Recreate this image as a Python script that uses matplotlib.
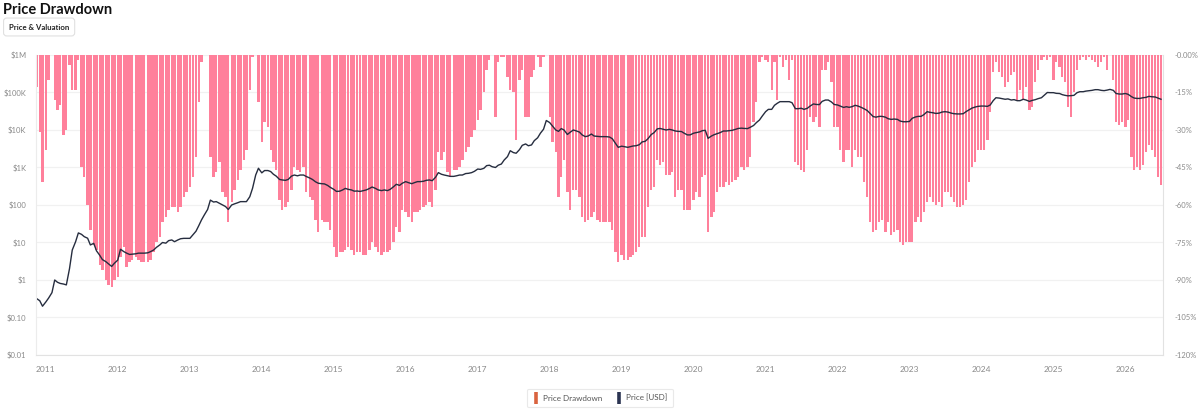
import numpy as np
import pandas as pd
import matplotlib
matplotlib.use("Agg")
import matplotlib.pyplot as plt
import matplotlib.dates as mdates
from matplotlib.lines import Line2D

plt.rcParams['font.family'] = ['Lato', 'DejaVu Sans']

# Drawdown from all-time high (%), one value per half month, from 2010-11-15
dd_2010 = [13, 31, 51]
dd_2011 = [38, 10, 0, 18, 22, 20, 32, 30, 4, 14, 14, 2,
           45, 49, 60, 70, 76, 78, 84, 86, 90, 92, 93, 90]
dd_2012 = [89, 81, 77, 85, 83, 82, 81, 82, 83, 83, 83, 82,
           79, 75, 73, 67, 65, 62, 61, 61, 63, 61, 57, 55]
dd_2013 = [53, 49, 41, 19, 3, 0, 0, 41, 49, 47, 43, 55,
           57, 67, 59, 54, 50, 46, 42, 38, 14, 1, 0, 19]
dd_2014 = [35, 27, 29, 38, 43, 46, 58, 62, 61, 59, 54, 45,
           46, 47, 45, 55, 57, 58, 66, 71, 66, 67, 67, 70]
dd_2015 = [77, 81, 79, 79, 78, 77, 78, 80, 79, 79, 80, 80,
           78, 75, 77, 79, 80, 79, 79, 78, 75, 69, 71, 62]
dd_2016 = [63, 65, 67, 63, 63, 62, 61, 60, 59, 61, 54, 39,
           42, 39, 47, 49, 46, 46, 45, 42, 39, 37, 33, 30]
dd_2017 = [26, 22, 15, 6, 2, 0, 25, 3, 1, 1, 9, 14,
           15, 34, 10, 6, 25, 25, 9, 6, 1, 5, 1, 0]
dd_2018 = [25, 35, 39, 57, 49, 42, 55, 62, 54, 54, 57, 65,
           67, 66, 65, 63, 66, 67, 67, 67, 67, 70, 79, 83]
dd_2019 = [80, 82, 82, 81, 80, 79, 77, 73, 73, 61, 54, 53,
           42, 44, 43, 48, 48, 47, 57, 54, 54, 62, 62, 62]
dd_2020 = [58, 55, 57, 49, 48, 71, 65, 63, 55, 53, 53, 51,
           52, 51, 50, 49, 45, 46, 45, 41, 27, 19, 3, 1]
dd_2021 = [2, 3, 14, 3, 18, 1, 5, 2, 10, 2, 43, 44,
           46, 47, 38, 25, 27, 25, 29, 6, 6, 3, 11, 29]
dd_2022 = [29, 38, 43, 38, 38, 45, 38, 41, 41, 51, 57, 67,
           71, 70, 67, 66, 71, 67, 72, 71, 70, 75, 76, 75]
dd_2023 = [75, 75, 67, 65, 67, 63, 59, 57, 59, 60, 59, 61,
           55, 55, 57, 59, 61, 61, 60, 58, 51, 45, 43, 38]
dd_2024 = [38, 38, 34, 23, 7, 3, 7, 9, 13, 11, 8, 7,
           18, 14, 18, 13, 22, 21, 11, 6, 2, 1, 2, 1]
dd_2025 = [10, 3, 5, 9, 11, 21, 25, 15, 6, 2, 1, 2,
           1, 2, 3, 5, 3, 1, 6, 0, 10, 27, 28, 27]
dd_2026 = [29, 26, 41, 46, 45, 46, 44, 39, 36, 38, 41, 49, 52]

# BTC price (USD), same half-month dates
px_2010 = [0.32, 0.28, 0.20]
px_2011 = [0.26, 0.33, 0.46, 1.0, 0.87, 0.81, 0.78, 0.74, 2.0, 6.3, 10.5, 18,
           16.5, 14.3, 13, 8.6, 9.5, 6.0, 4.6, 3.5, 3.1, 2.7, 2.3, 2.8]
px_2012 = [3.4, 6.6, 5.7, 5.2, 4.8, 4.9, 5.0, 5.2, 5.2, 5.2, 5.3, 5.7,
           6.3, 7.4, 8.6, 10, 9.6, 11.2, 11.7, 10.5, 11.7, 12.6, 12.9, 12.9]
px_2013 = [12.9, 15.8, 20, 28, 40, 54, 76, 135, 120, 123, 110, 100,
           91, 76, 100, 107, 115, 123, 123, 123, 166, 278, 630, 955]
px_2014 = [720, 830, 830, 780, 660, 590, 480, 465, 455, 480, 590, 630,
           600, 630, 630, 575, 525, 480, 415, 380, 370, 365, 333, 295]
px_2015 = [262, 230, 234, 252, 277, 262, 252, 234, 236, 230, 242, 252,
           275, 302, 277, 252, 242, 252, 242, 262, 308, 357, 333, 380]
px_2016 = [420, 395, 370, 395, 420, 420, 430, 455, 465, 445, 550, 730,
           660, 630, 600, 580, 580, 600, 630, 630, 690, 700, 730, 790]
px_2017 = [910, 890, 950, 1120, 1150, 1050, 1000, 1150, 1240, 1580, 1950, 2800,
           2500, 2400, 3000, 3900, 4250, 3800, 4000, 5200, 6200, 8200, 10500, 17900]
px_2018 = [15800, 12900, 10000, 9200, 10900, 10000, 7600, 8700, 10000, 9500, 8800, 7400,
           6650, 6900, 7800, 6900, 6750, 6650, 6650, 6650, 6500, 5850, 4400, 3450]
px_2019 = [3700, 3600, 3450, 3600, 3750, 3800, 4050, 4800, 5000, 5850, 7600, 8500,
           10700, 11000, 10400, 10000, 10400, 10000, 9400, 9200, 9100, 8200, 7400, 7400]
px_2020 = [8200, 8500, 8900, 9600, 9800, 6000, 6900, 7500, 8000, 8500, 9400, 9400,
           9600, 9800, 10400, 11000, 11200, 11000, 10900, 11800, 13200, 15700, 18500, 23500]
px_2021 = [30800, 35500, 35500, 45500, 51500, 57000, 57000, 57000, 57000, 53500, 37000, 37000,
           38000, 35500, 38000, 43500, 49500, 48000, 47500, 58000, 63000, 63000, 56000, 48000]
px_2022 = [46500, 43500, 40000, 41800, 40200, 41800, 45500, 43500, 40200, 37000, 33000, 27800,
           22800, 22000, 23100, 23100, 22000, 20000, 19200, 19600, 19200, 17300, 16600, 16600]
px_2023 = [16900, 20500, 22300, 23100, 23100, 25600, 30800, 29600, 28800, 27600, 28200, 30100,
           30800, 30100, 28200, 27200, 26800, 26800, 27200, 30800, 34700, 38500, 41000, 42700]
px_2024 = [43500, 43500, 42700, 46400, 60500, 72500, 71000, 68500, 66000, 67500, 63000, 64500,
           60500, 60500, 66000, 63000, 58000, 61500, 64500, 68500, 72500, 84000, 100000, 99000]
px_2025 = [99000, 95000, 94000, 87500, 84000, 81500, 82500, 84000, 99000, 105000, 105000, 109000,
           112000, 114000, 119000, 119000, 114000, 112000, 116000, 121000, 114000, 94000, 91000, 91000]
px_2026 = [94000, 89500, 77500, 71000, 69500, 69500, 72500, 74000, 79000, 77000, 76000, 71000, 66000]

drawdown = np.array(dd_2010 + dd_2011 + dd_2012 + dd_2013 + dd_2014 + dd_2015 + dd_2016
                    + dd_2017 + dd_2018 + dd_2019 + dd_2020 + dd_2021 + dd_2022 + dd_2023
                    + dd_2024 + dd_2025 + dd_2026, dtype=float)
price = np.array(px_2010 + px_2011 + px_2012 + px_2013 + px_2014 + px_2015 + px_2016
                 + px_2017 + px_2018 + px_2019 + px_2020 + px_2021 + px_2022 + px_2023
                 + px_2024 + px_2025 + px_2026, dtype=float)
dates = pd.date_range('2010-11-15', periods=len(drawdown), freq='SMS')

price_ticks = [0.01, 0.1, 1, 10, 100, 1e3, 1e4, 1e5, 1e6]
price_labels = ['$0.01', '$0.10', '$1', '$10', '$100', '$1K', '$10K', '$100K', '$1M']
dd_ticks = [0, -15, -30, -45, -60, -75, -90, -105, -120]
dd_labels = ['-0.00%', '-15%', '-30%', '-45%', '-60%', '-75%', '-90%', '-105%', '-120%']

BAR = '#ff809b'
LINE = '#262d3f'
TICK = '#8a8a8a'

fig = plt.figure(figsize=(11.99, 4.15), dpi=100)
ax = fig.add_axes([36 / 1199, 1 - 355 / 415, (1163 - 36) / 1199, 300 / 415])
ax2 = ax.twinx()

# drawdown bars hang from the top
ax2.bar(dates, -drawdown, width=11.5, color=BAR, linewidth=0, align='center')
ax2.set_ylim(-120, 0)
ax2.set_yticks(dd_ticks)
ax2.set_yticklabels(dd_labels)

ax.plot(dates, price, color=LINE, lw=1.0)
ax.set_yscale('log')
ax.set_ylim(0.01, 1e6)
ax.set_yticks(price_ticks)
ax.set_yticklabels(price_labels)
ax.yaxis.set_minor_locator(matplotlib.ticker.NullLocator())
ax.set_zorder(ax2.get_zorder() + 1)
ax.patch.set_visible(False)

ax2.set_axisbelow(True)
ax2.yaxis.grid(True, color='#f1f1f1', lw=0.9)

ax.set_xlim(pd.Timestamp('2010-11-12'), pd.Timestamp('2026-07-11'))
ax.xaxis.set_major_locator(mdates.YearLocator())
ax.xaxis.set_major_formatter(mdates.DateFormatter('%Y'))

for a in (ax, ax2):
    a.tick_params(length=0, labelsize=5.5, labelcolor=TICK)
    for s in a.spines.values():
        s.set_visible(False)
ax.tick_params(axis='y', pad=7)
ax2.tick_params(axis='y', pad=8)
ax.tick_params(axis='x', pad=8, labelsize=6)
ax.spines['bottom'].set_visible(True)
ax.spines['bottom'].set_color('#e2e2e2')
ax.spines['left'].set_visible(True)
ax.spines['left'].set_color('#ececec')
ax.spines['right'].set_visible(True)
ax.spines['right'].set_color('#e2e2e2')

fig.text(3 / 1199, 1 - 10 / 415, 'Price Drawdown', fontsize=10.5, weight='bold',
         va='center', ha='left', color='#111111')
fig.text(9 / 1199, 1 - 27 / 415, 'Price & Valuation', fontsize=5.6, weight='bold',
         va='center', ha='left', color='#222222',
         bbox=dict(boxstyle='round,pad=0.7,rounding_size=0.4', fc='white', ec='#e0e0e0', lw=0.8))

handles = [Line2D([], [], marker='|', markersize=8, markeredgewidth=2.6, linestyle='None', color='#d9633f'),
           Line2D([], [], marker='|', markersize=8, markeredgewidth=2.6, linestyle='None', color='#2b3452')]
leg = fig.legend(handles, ['Price Drawdown', 'Price [USD]'], loc='center',
                 bbox_to_anchor=(600 / 1199, 1 - 398 / 415), ncol=2, fontsize=5.8,
                 frameon=True, handlelength=0.8, handletextpad=0.5, columnspacing=1.6,
                 borderpad=0.7, fancybox=True)
leg.get_frame().set_edgecolor('#e4e4e4')
leg.get_frame().set_linewidth(0.8)
for t in leg.get_texts():
    t.set_color('#555555')

fig.savefig('out.png', dpi=100, facecolor='white')
